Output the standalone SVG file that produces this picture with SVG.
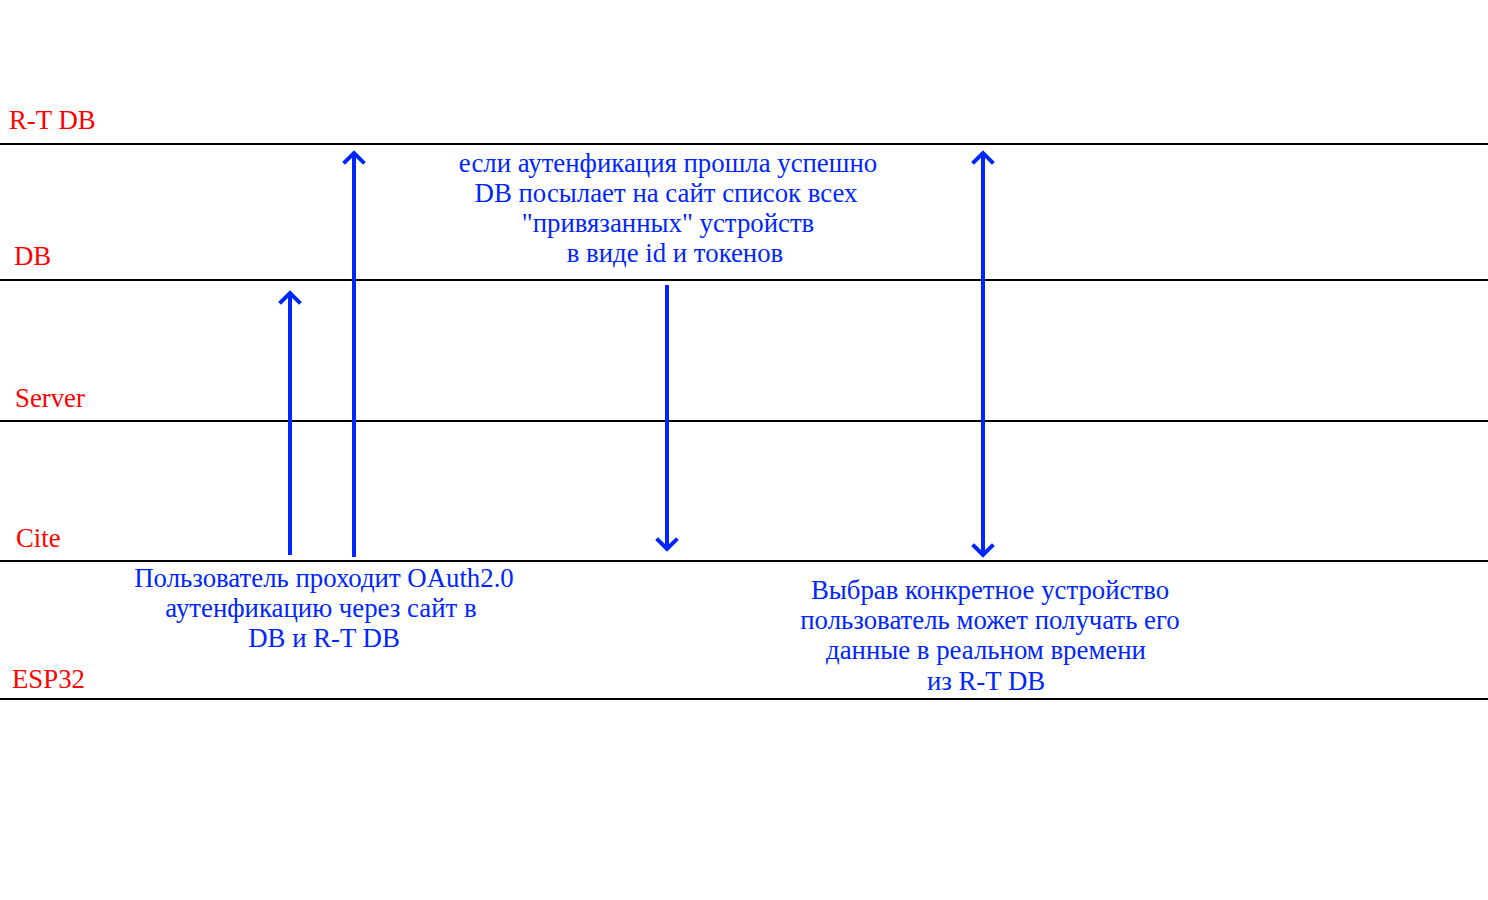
<svg xmlns="http://www.w3.org/2000/svg" width="1488" height="900" viewBox="0 0 1488 900">
<style>
.lane{stroke:#000;stroke-width:2;fill:none}
.lbl{font-family:"Liberation Serif","Times New Roman",serif;font-size:26.8px;fill:#ff0000}
.note{font-family:"Liberation Serif","Times New Roman",serif;font-size:26.8px;fill:#0026ff;text-anchor:middle}
.arr{stroke:#0026ff;stroke-width:4;fill:none}
.head{stroke:#0026ff;stroke-width:4;fill:none;stroke-linecap:square}
</style>
<rect width="1488" height="900" fill="#fff"/>
<g id="lanes">
<line class="lane" x1="0" y1="144" x2="1488" y2="144"/>
<line class="lane" x1="0" y1="280" x2="1488" y2="280"/>
<line class="lane" x1="0" y1="421" x2="1488" y2="421"/>
<line class="lane" x1="0" y1="561" x2="1488" y2="561"/>
<line class="lane" x1="0" y1="699" x2="1488" y2="699"/>
</g>
<g id="lane-rtdb"><text class="lbl" x="9" y="129">R-T DB</text></g>
<g id="lane-db"><text class="lbl" x="14" y="265">DB</text></g>
<g id="lane-server"><text class="lbl" x="15" y="407">Server</text></g>
<g id="lane-cite"><text class="lbl" x="16" y="547">Cite</text></g>
<g id="lane-esp32"><text class="lbl" x="12" y="688">ESP32</text></g>
<g id="connectors">
<line class="arr" x1="290" y1="555" x2="290" y2="293"/>
<polyline class="head" points="281,302 290,293 299,302"/>
<line class="arr" x1="354" y1="557" x2="354" y2="153"/>
<polyline class="head" points="345,162 354,153 363,162"/>
<line class="arr" x1="667" y1="285" x2="667" y2="549"/>
<polyline class="head" points="658,540 667,549 676,540"/>
<line class="arr" x1="983" y1="153" x2="983" y2="555"/>
<polyline class="head" points="974,162 983,153 992,162"/>
<polyline class="head" points="974,546 983,555 992,546"/>
</g>
<g id="note-auth">
<text class="note" x="324" y="587">Пользователь проходит OAuth2.0</text>
<text class="note" x="321" y="617">аутенфикацию через сайт в</text>
<text class="note" x="324" y="647">DB и R-T DB</text>
</g>
<g id="note-db">
<text class="note" x="668" y="172">если аутенфикация прошла успешно</text>
<text class="note" x="666" y="202">DB посылает на сайт список всех</text>
<text class="note" x="668" y="232">"привязанных" устройств</text>
<text class="note" x="675" y="262">в виде id и токенов</text>
</g>
<g id="note-device">
<text class="note" x="990" y="599">Выбрав конкретное устройство</text>
<text class="note" x="990" y="629">пользователь может получать его</text>
<text class="note" x="986" y="659">данные в реальном времени</text>
<text class="note" x="986" y="690">из R-T DB</text>
</g>
</svg>
